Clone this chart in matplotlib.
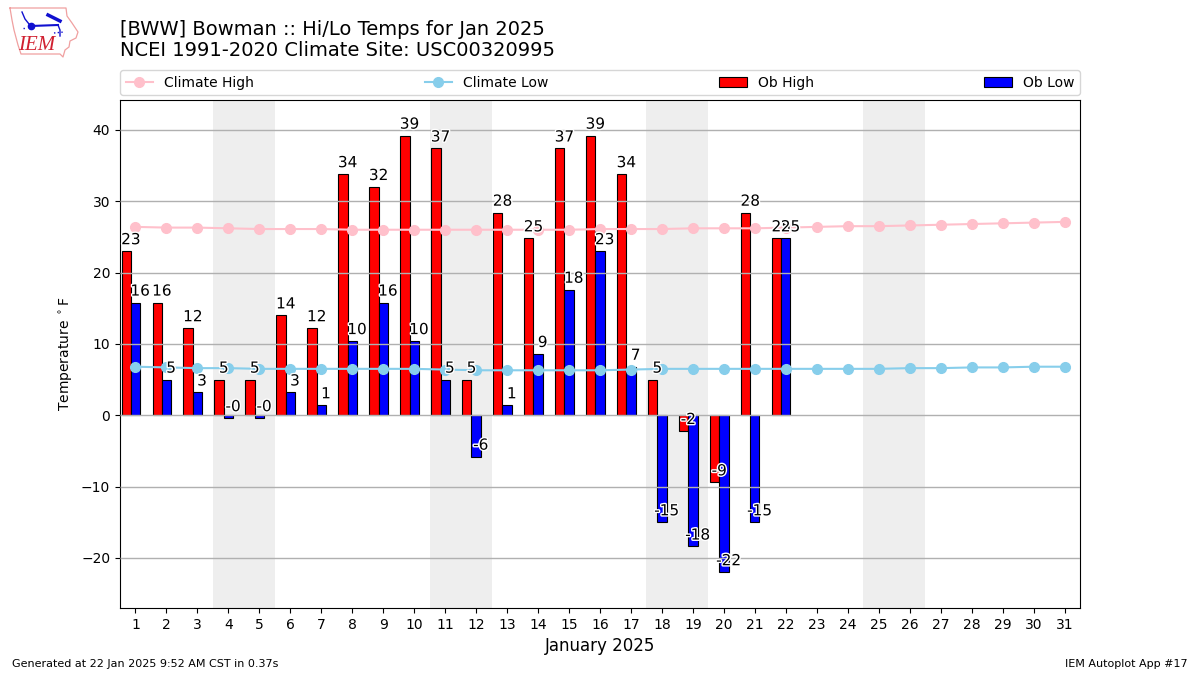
import matplotlib
matplotlib.use('Agg')
import matplotlib.pyplot as plt
import matplotlib.patheffects as PathEffects

days = list(range(1, 32))
ob_days = list(range(1, 23))
ob_high = [23, 15.8, 12.2, 5, 5, 14, 12.2, 33.8, 32, 39.2, 37.4, 5, 28.4, 24.8, 37.4, 39.2, 33.8, 5, -2.2, -9.4, 28.4, 24.8]
ob_low = [15.8, 5, 3.2, -0.4, -0.4, 3.2, 1.4, 10.4, 15.8, 10.4, 5, -5.8, 1.4, 8.6, 17.6, 23, 6.8, -15, -18.4, -22, -15, 24.8]
climate_high = [26.4, 26.3, 26.3, 26.2, 26.1, 26.1, 26.1, 26.0, 26.0, 26.0, 26.0, 26.0, 26.0, 26.0, 26.0, 26.1,
                26.1, 26.1, 26.2, 26.2, 26.2, 26.3, 26.4, 26.5, 26.5, 26.6, 26.7, 26.8, 26.9, 27.0, 27.1]
climate_low = [6.8, 6.7, 6.6, 6.6, 6.5, 6.5, 6.5, 6.5, 6.5, 6.5, 6.4, 6.3, 6.3, 6.3, 6.3, 6.3,
               6.4, 6.5, 6.5, 6.5, 6.5, 6.5, 6.5, 6.5, 6.5, 6.6, 6.6, 6.7, 6.7, 6.8, 6.8]
weekends = [(3.5, 5.5), (10.5, 12.5), (17.5, 19.5), (24.5, 26.5)]

fig = plt.figure(figsize=(12, 6.75), dpi=100)
ax = fig.add_axes([0.1, 0.0995, 0.8, 0.7525])

for start, end in weekends:
    ax.axvspan(start, end, color='#eeeeee', lw=0, zorder=1)

width = 0.3
bars_hi = ax.bar([d - width for d in ob_days], ob_high, width=width, color='r', edgecolor='k', lw=0.8,
                 label='Ob High', zorder=2)
bars_lo = ax.bar(ob_days, ob_low, width=width, color='b', edgecolor='k', lw=0.8, label='Ob Low', zorder=2)
line_hi, = ax.plot(days, climate_high, color='pink', marker='o', lw=1.5, ms=7, label='Climate High', zorder=3)
line_lo, = ax.plot(days, climate_low, color='skyblue', marker='o', lw=1.5, ms=7, label='Climate Low', zorder=3)

# value labels, white halo so they read over the bars
for offset, values in ((-0.15, ob_high), (0.15, ob_low)):
    for d, val in zip(ob_days, values):
        txt = ax.text(d + offset, val + 0.55, f'{val:.0f}', ha='center', va='bottom', fontsize=11, zorder=5)
        txt.set_path_effects([PathEffects.withStroke(linewidth=2, foreground='white')])

ax.set_xlim(0.5, 31.5)
ax.set_ylim(-27.0, 44.2)
ax.set_xticks(days)
ax.set_yticks([-20, -10, 0, 10, 20, 30, 40])
ax.yaxis.grid(True, color='#b0b0b0', lw=1, zorder=2.5)
ax.set_axisbelow(False)
ax.tick_params(axis='x', labelsize=10)
ax.tick_params(axis='y', labelsize=10)
ax.set_xlabel('January 2025', fontsize=12)
ax.set_ylabel(r'Temperature $^\circ$F', fontsize=10)

ax.legend(handles=[line_hi, line_lo, bars_hi, bars_lo], ncol=4, mode='expand', loc='lower left',
          bbox_to_anchor=(0, 1.0095, 1, 0.05), borderaxespad=0, fontsize=10)

fig.text(0.1, 0.9565, '[BWW] Bowman :: Hi/Lo Temps for Jan 2025', fontsize=14, va='center')
fig.text(0.1, 0.9245, 'NCEI 1991-2020 Climate Site: USC00320995', fontsize=14, va='center')
fig.text(0.01, 0.012, 'Generated at 22 Jan 2025 9:52 AM CST in 0.37s', fontsize=8)
fig.text(0.99, 0.012, 'IEM Autoplot App #17', fontsize=8, ha='right')

# IEM logo, sketched in pixel coords of the reference
logo = fig.add_axes([0, 0.9, 0.07, 0.1])
logo.set_xlim(0, 84)
logo.set_ylim(67.5, 0)
logo.axis('off')
state_x = [10, 66, 67, 72, 78, 76, 70, 69, 65, 63, 60, 21, 18, 14, 12, 10]
state_y = [8, 8, 16, 23, 32, 38, 41, 47, 50, 57, 54, 54, 45, 30, 20, 8]
logo.plot(state_x, state_y, color='#f0a0a0', lw=0.9)
logo.plot([31, 58], [26, 25], color='#1010d0', lw=1.5)
logo.plot([31], [26], 'o', color='#1010d0', ms=4.5)
logo.plot([22, 25, 29], [12, 19, 24], color='#1010d0', lw=1)
logo.plot([48, 56, 60], [15, 19, 21], color='#1010d0', lw=2.5)
logo.plot([58, 60, 60], [25, 30, 36], color='#1010d0', lw=1)
logo.plot([54, 64], [33, 32], color='#1010d0', lw=1, ls=':')
logo.plot([23, 26], [28, 28], color='#1010d0', lw=1, ls=':')
logo.text(37, 45, 'IEM', color='#d02030', fontsize=15, family='Liberation Serif', style='italic',
          ha='center', va='center')

fig.savefig('out.png', dpi=100)
